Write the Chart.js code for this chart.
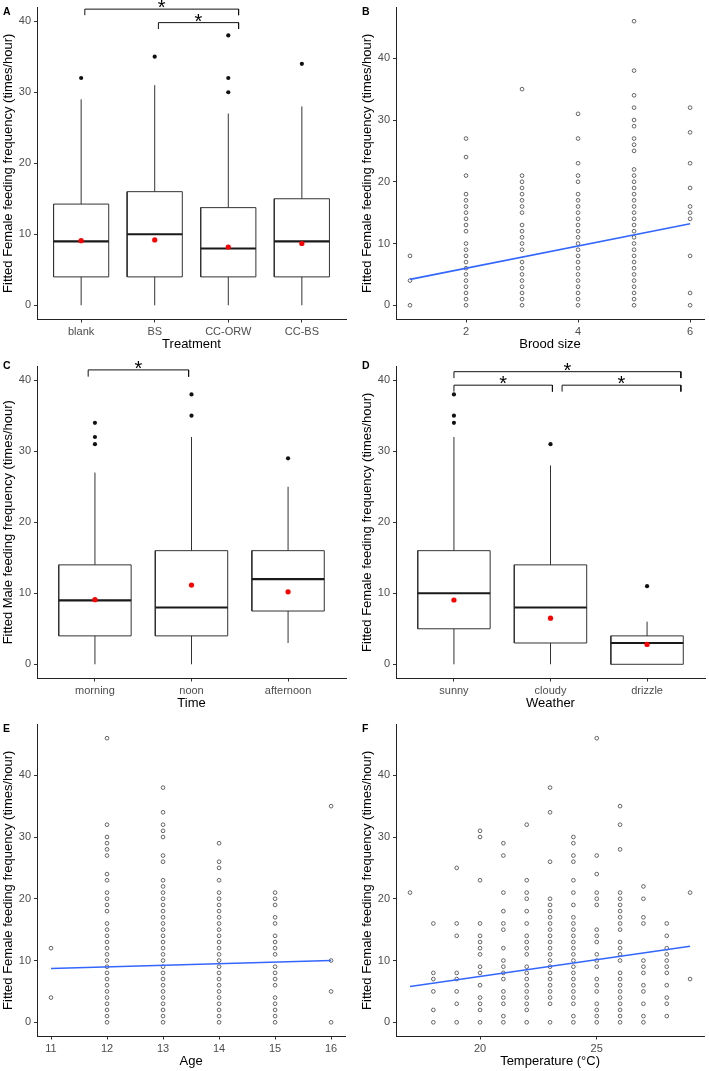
<!DOCTYPE html>
<html><head><meta charset="utf-8">
<script src="https://cdn.jsdelivr.net/npm/chart.js@4.4.1/dist/chart.umd.min.js"></script>
<style>
html,body{margin:0;padding:0;background:#fff;}
#wrap{position:relative;width:709px;height:1071px;overflow:hidden;background:#fff;}
canvas{position:absolute;}
</style></head><body><div id="wrap">
<canvas id="cA" width="350" height="354" style="left:0px;top:0px"></canvas>
<canvas id="cB" width="350" height="354" style="left:359px;top:0px"></canvas>
<canvas id="cC" width="350" height="354" style="left:0px;top:359px"></canvas>
<canvas id="cD" width="350" height="354" style="left:359px;top:359px"></canvas>
<canvas id="cE" width="350" height="354" style="left:0px;top:717px"></canvas>
<canvas id="cF" width="350" height="354" style="left:359px;top:717px"></canvas>
</div>
<script>
// ---------- DATA ----------
// Panel A: Treatment boxplot
const treatmentCats = ['blank', 'BS', 'CC-ORW', 'CC-BS'];
const treatmentLow = [0, 0, 0, 0];
const treatmentQ1 = [4, 4, 4, 4];
const treatmentMedian = [9, 10, 8, 9];
const treatmentQ3 = [14.25, 16, 13.75, 15];
const treatmentHigh = [29, 31, 27, 28];
const treatmentMean = [9.1, 9.2, 8.2, 8.7];
const treatmentOutliers = [[32], [35], [38, 32, 30], [34]];
const treatmentBrackets = [[1.05, 3.14, 41.7, 40.85], [2.05, 3.14, 39.8, 38.9]];

// Panel B: Brood size scatter
const broodSizes = [1, 2, 3, 4, 5, 6];
const broodFreq = [
  [8, 4, 0],
  [27, 24, 21, 18, 17, 16, 15, 14, 13, 12, 10, 9, 8, 7, 6, 5, 4, 3, 2, 1, 0],
  [35, 21, 20, 19, 18, 17, 16, 15, 13, 12, 11, 10, 9, 7, 6, 5, 4, 3, 2, 1, 0],
  [31, 27, 23, 21, 20, 18, 17, 16, 15, 14, 13, 12, 11, 10, 9, 8, 7, 6, 5, 4, 3, 2, 1, 0],
  [46, 38, 34, 32, 30, 29, 27, 26, 25, 22, 21, 20, 19, 18, 17, 16, 15, 14, 13, 12, 11, 10, 9, 8, 7, 6, 5, 4, 3, 2, 1, 0],
  [32, 28, 23, 19, 16, 15, 14, 8, 2, 0]
];
const broodFitX = [1, 6];
const broodFitY = [4.2, 13.2];

// Panel C: Time boxplot (male)
const timeCats = ['morning', 'noon', 'afternoon'];
const timeLow = [0, 0, 3];
const timeQ1 = [4, 4, 7.5];
const timeMedian = [9, 8, 12];
const timeQ3 = [14, 16, 16];
const timeHigh = [27, 32, 25];
const timeMean = [9.1, 11.15, 10.2];
const timeOutliers = [[34, 32, 31], [38, 35], [29]];
const timeBrackets = [[0.93, 1.97, 41.45, 40.5]];

// Panel D: Weather boxplot
const weatherCats = ['sunny', 'cloudy', 'drizzle'];
const weatherLow = [0, 0, 0];
const weatherQ1 = [5, 3, 0];
const weatherMedian = [10, 8, 3];
const weatherQ3 = [16, 14, 4];
const weatherHigh = [32, 28, 6];
const weatherMean = [9.05, 6.5, 2.8];
const weatherOutliers = [[38, 35, 34], [31], [11]];
const weatherBrackets = [[1.0, 3.35, 41.2, 40.3], [1.0, 2.02, 39.3, 38.4], [2.12, 3.35, 39.3, 38.4]];

// Panel E: Age scatter
const ages = [11, 12, 13, 14, 15, 16];
const ageFreq = [
  [12, 4],
  [46, 32, 30, 29, 28, 27, 24, 23, 21, 20, 19, 18, 16, 15, 14, 13, 12, 11, 10, 9, 8, 7, 6, 5, 4, 3, 2, 1, 0],
  [38, 34, 32, 31, 30, 27, 26, 23, 22, 21, 20, 19, 18, 17, 16, 15, 14, 13, 12, 11, 10, 9, 8, 7, 6, 5, 4, 3, 2, 1, 0],
  [29, 26, 25, 23, 21, 20, 19, 18, 17, 16, 15, 14, 13, 12, 11, 10, 9, 8, 7, 6, 5, 4, 3, 2, 1, 0],
  [21, 20, 19, 17, 16, 14, 13, 12, 11, 9, 8, 7, 6, 4, 3, 2, 1, 0],
  [35, 10, 5, 0]
];
const ageFitX = [11, 16];
const ageFitY = [8.7, 10.0];

// Panel F: Temperature scatter
const temps = [17, 18, 19, 20, 21, 22, 23, 24, 25, 26, 27, 28, 29];
const tempFreq = [
  [21],
  [16, 8, 7, 5, 2, 0],
  [25, 16, 14, 8, 7, 5, 3, 0],
  [31, 30, 23, 16, 14, 13, 12, 11, 9, 8, 6, 4, 3, 2, 0],
  [29, 27, 21, 18, 16, 15, 12, 10, 9, 8, 7, 5, 4, 3, 1, 0],
  [32, 23, 21, 20, 18, 16, 14, 13, 12, 11, 9, 8, 7, 6, 5, 4, 3, 2, 0],
  [38, 34, 26, 20, 19, 18, 17, 16, 15, 14, 13, 12, 11, 10, 9, 8, 7, 6, 5, 4, 3, 0],
  [30, 29, 27, 26, 23, 21, 19, 17, 16, 15, 14, 13, 12, 11, 10, 9, 8, 7, 6, 5, 4, 3, 1, 0],
  [46, 27, 24, 21, 20, 19, 15, 14, 13, 11, 10, 9, 7, 6, 5, 3, 2, 1, 0],
  [35, 32, 28, 21, 20, 19, 18, 17, 16, 15, 13, 12, 11, 10, 8, 7, 6, 5, 4, 3, 2, 1, 0],
  [22, 20, 17, 16, 10, 9, 8, 6, 5, 3, 1, 0],
  [16, 14, 12, 11, 10, 9, 8, 6, 4, 3, 1],
  [21, 7]
];
const tempFitX = [17, 29];
const tempFitY = [5.8, 12.3];

const yTicks = [0, 10, 20, 30, 40];
const femaleTitle = 'Fitted Female feeding frequency (times/hour)';
const maleTitle = 'Fitted Male feeding frequency (times/hour)';

// ---------- RENDERING ----------
Chart.defaults.font.family = '"Liberation Sans", Arial, sans-serif';
Chart.defaults.animation = false;

const annotPlugin = {
  id: 'annot',
  afterDraw(chart, args, opts) {
    const ctx = chart.ctx, xs = chart.scales.x, ys = chart.scales.y;
    ctx.save();
    ctx.fillStyle = '#000';
    ctx.font = '20px "Liberation Sans", Arial, sans-serif';
    ctx.textAlign = 'center';
    ctx.textBaseline = 'alphabetic';
    (opts.brackets || []).forEach(b => {
      const m = ctx.measureText('*');
      const cx = xs.getPixelForValue((b[0] + b[1]) / 2);
      const cy = ys.getPixelForValue(b[2]) - 4.8;
      const base = cy + (m.actualBoundingBoxAscent - m.actualBoundingBoxDescent) / 2;
      ctx.fillText('*', cx, base);
    });
    if (opts.letter) {
      ctx.font = 'bold 10.5px "Liberation Sans", Arial, sans-serif';
      ctx.textAlign = 'left';
      ctx.fillText(opts.letter, 3, opts.letterY);
    }
    ctx.restore();
  }
};

function lineDs(data, color, width) {
  return {data, showLine: true, borderColor: color, borderWidth: width, pointRadius: 0,
    pointHoverRadius: 0, fill: false, tension: 0, borderCapStyle: 'butt', borderJoinStyle: 'miter', spanGaps: false};
}

function boxDatasets(lo, q1, med, q3, hi, mean, outl, brackets) {
  const w = 0.375;
  const boxPts = [], medPts = [], outPts = [], meanPts = [], brPts = [];
  q1.forEach((_, i) => {
    const c = i + 1;
    boxPts.push({x: c - w, y: q1[i]}, {x: c + w, y: q1[i]}, {x: c + w, y: q3[i]}, {x: c - w, y: q3[i]}, {x: c - w, y: q1[i]}, {x: c, y: null});
    if (lo[i] < q1[i]) boxPts.push({x: c, y: lo[i]}, {x: c, y: q1[i]}, {x: c, y: null});
    boxPts.push({x: c, y: q3[i]}, {x: c, y: hi[i]}, {x: c, y: null});
    medPts.push({x: c - w, y: med[i]}, {x: c + w, y: med[i]}, {x: c, y: null});
    outl[i].forEach(v => outPts.push({x: c, y: v}));
    meanPts.push({x: c, y: mean[i]});
  });
  brackets.forEach(b => {
    brPts.push({x: b[0], y: b[3]}, {x: b[0], y: b[2]}, {x: b[1], y: b[2]}, {x: b[1], y: b[3]}, {x: b[1], y: null});
  });
  return [
    {data: meanPts, pointRadius: 2.6, pointBackgroundColor: '#ff0000', pointBorderWidth: 0, pointBorderColor: '#ff0000'},
    {data: outPts, pointRadius: 2.1, pointBackgroundColor: '#111', pointBorderWidth: 0, pointBorderColor: '#111'},
    lineDs(medPts, '#1a1a1a', 2.2),
    lineDs(boxPts, '#333333', 1),
    lineDs(brPts, '#111', 1)
  ];
}

function scatterDatasets(xs, groups, fitX, fitY) {
  const pts = [];
  xs.forEach((x, i) => groups[i].forEach(v => pts.push({x, y: v})));
  return [
    lineDs([{x: fitX[0], y: fitY[0]}, {x: fitX[1], y: fitY[1]}], '#3366FF', 1.6),
    {data: pts, pointRadius: 1.85, pointBorderWidth: 0.9, pointBorderColor: '#555', pointBackgroundColor: 'rgba(255,255,255,0)'}
  ];
}

function makeChart(id, o) {
  return new Chart(document.getElementById(id), {
    type: 'scatter',
    data: {datasets: o.datasets},
    plugins: [annotPlugin],
    options: {
      responsive: false, animation: false, devicePixelRatio: 1, events: [],
      layout: {padding: {left: 0, right: 2.5, top: 7, bottom: 0}},
      plugins: {legend: {display: false}, tooltip: {enabled: false},
        annot: {brackets: o.brackets || [], letter: o.letter, letterY: o.letterY}},
      scales: {
        x: {
          type: 'linear', min: o.xMin, max: o.xMax,
          afterBuildTicks: s => { s.ticks = o.xTicks.map(v => ({value: v})); },
          afterFit: s => { s.height = 34.5; s.paddingLeft = 0; s.paddingRight = 0; },
          ticks: {callback: o.xLabel, color: '#4d4d4d', font: {size: 11}, padding: 3, autoSkip: false, maxRotation: 0, minRotation: 0},
          grid: {display: true, drawOnChartArea: false, drawTicks: true, tickLength: 3, color: '#333', lineWidth: 1},
          border: {display: true, color: '#222', width: 1},
          title: {display: true, text: o.xTitle, color: '#000', font: {size: 13}, padding: {top: 0, bottom: 1.5}}
        },
        y: {
          type: 'linear', min: o.yMin, max: o.yMax,
          afterBuildTicks: s => { s.ticks = yTicks.map(v => ({value: v})); },
          afterFit: s => { s.width = 37; s.paddingTop = 0; s.paddingBottom = 0; },
          ticks: {color: '#4d4d4d', font: {size: 11}, padding: 3, autoSkip: false},
          grid: {display: true, drawOnChartArea: false, drawTicks: true, tickLength: 3, color: '#333', lineWidth: 1},
          border: {display: true, color: '#222', width: 1},
          title: {display: true, text: o.yTitle, color: '#000', font: {size: 13}, padding: {top: 1, bottom: 0}}
        }
      }
    }
  });
}

makeChart('cA', {
  datasets: boxDatasets(treatmentLow, treatmentQ1, treatmentMedian, treatmentQ3, treatmentHigh, treatmentMean, treatmentOutliers, treatmentBrackets),
  brackets: treatmentBrackets, letter: 'A', letterY: 15,
  xMin: 0.4, xMax: treatmentCats.length + 0.6, xTicks: treatmentCats.map((_, i) => i + 1),
  xLabel: v => treatmentCats[v - 1], xTitle: 'Treatment', yTitle: femaleTitle, yMin: -2.0, yMax: 42.0
});
makeChart('cB', {
  datasets: scatterDatasets(broodSizes, broodFreq, broodFitX, broodFitY),
  letter: 'B', letterY: 15,
  xMin: 0.75, xMax: 6.25, xTicks: [2, 4, 6], xLabel: v => String(v),
  xTitle: 'Brood size', yTitle: femaleTitle, yMin: -2.3, yMax: 48.3
});
makeChart('cC', {
  datasets: boxDatasets(timeLow, timeQ1, timeMedian, timeQ3, timeHigh, timeMean, timeOutliers, timeBrackets),
  brackets: timeBrackets, letter: 'C', letterY: 10,
  xMin: 0.4, xMax: timeCats.length + 0.6, xTicks: timeCats.map((_, i) => i + 1),
  xLabel: v => timeCats[v - 1], xTitle: 'Time', yTitle: maleTitle, yMin: -2.0, yMax: 42.0
});
makeChart('cD', {
  datasets: boxDatasets(weatherLow, weatherQ1, weatherMedian, weatherQ3, weatherHigh, weatherMean, weatherOutliers, weatherBrackets),
  brackets: weatherBrackets, letter: 'D', letterY: 10,
  xMin: 0.4, xMax: weatherCats.length + 0.6, xTicks: weatherCats.map((_, i) => i + 1),
  xLabel: v => weatherCats[v - 1], xTitle: 'Weather', yTitle: femaleTitle, yMin: -2.0, yMax: 42.0
});
makeChart('cE', {
  datasets: scatterDatasets(ages, ageFreq, ageFitX, ageFitY),
  letter: 'E', letterY: 15,
  xMin: 10.75, xMax: 16.25, xTicks: ages, xLabel: v => String(v),
  xTitle: 'Age', yTitle: femaleTitle, yMin: -2.3, yMax: 48.3
});
makeChart('cF', {
  datasets: scatterDatasets(temps, tempFreq, tempFitX, tempFitY),
  letter: 'F', letterY: 15,
  xMin: 16.4, xMax: 29.6, xTicks: [20, 25], xLabel: v => String(v),
  xTitle: 'Temperature (°C)', yTitle: femaleTitle, yMin: -2.3, yMax: 48.3
});
</script>
</body></html>
